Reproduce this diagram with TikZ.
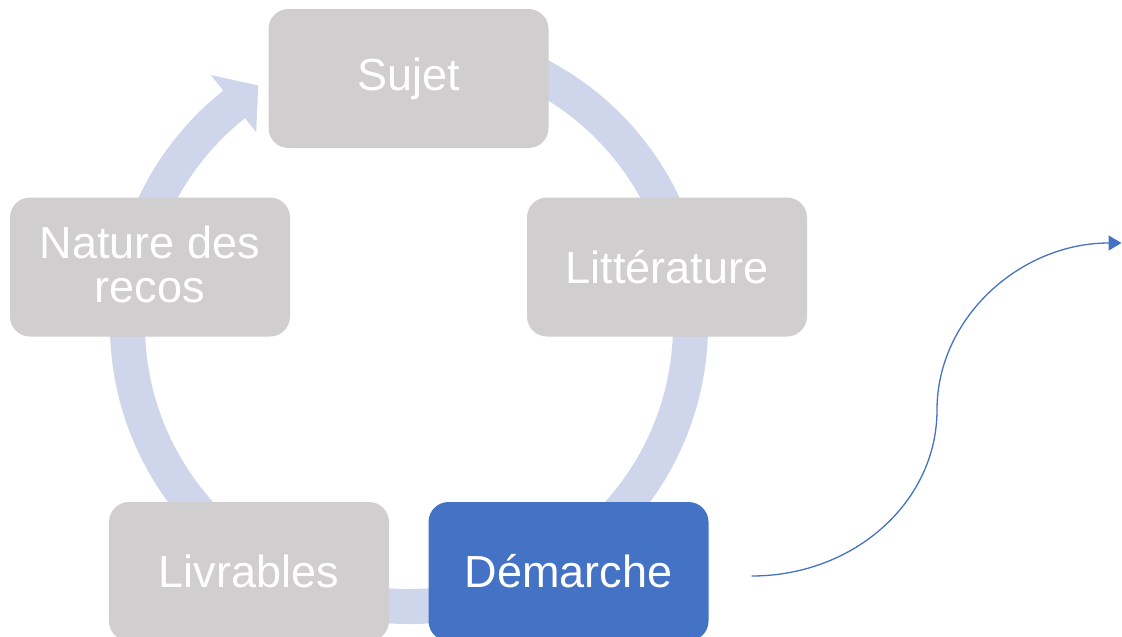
\documentclass[tikz,border=0pt]{standalone}
\usepackage{fontspec}
\setmainfont{Liberation Sans}
\usetikzlibrary{arrows.meta,calc}
\definecolor{boxgray}{RGB}{208,206,206}
\definecolor{accent}{RGB}{68,114,196}
\definecolor{ringblue}{RGB}{207,213,234}
\begin{document}
\begin{tikzpicture}[x=1pt,y=-1pt,
  stage/.style={rectangle, rounded corners=20pt, minimum width=280pt, minimum height=139pt,
    fill=boxgray, text=white, font=\fontsize{45}{44}\selectfont, align=center, inner sep=0pt},
  ringband/.style={draw=ringblue, line width=35pt},
  link/.style={draw=accent, line width=1.3pt, -{Triangle[length=13pt,width=15pt]}}]
\useasboundingbox (0,0) rectangle (1122,637);
\coordinate (c) at (409,325);
% cycle ring
\draw[ringband] ($(c)+(280:281.5)$) arc[start angle=280, end angle=592, radius=281.5];
\fill[ringblue] ($(c)+(231.6:246)$) -- ($(c)+(237.8:283)$) -- ($(c)+(231.6:319)$) -- cycle;
% stages
\node[stage] (sujet) at (408.5,78.5) {Sujet};
\node[stage] (litt) at (667,267) {Littérature};
\node[stage] (nat) at (150,267) {};
\node[font=\fontsize{45}{44}\selectfont, text=white, align=center, inner sep=0pt] (natlabel) at (150,264) {Nature des\\recos};
\node[stage] (livr) at (249,571.5) {Livrables};
\node[stage, fill=accent] (dem) at (568.5,571.5) {Démarche};
% outgoing curve
\coordinate (tip) at (1121.5,243);
\draw[link] ($(dem.east)+(43,4.5)$) .. controls (854,576) and (937,502) .. (937,410)
  .. controls (937,318) and (1020,243) .. (tip);
\end{tikzpicture}
\end{document}
